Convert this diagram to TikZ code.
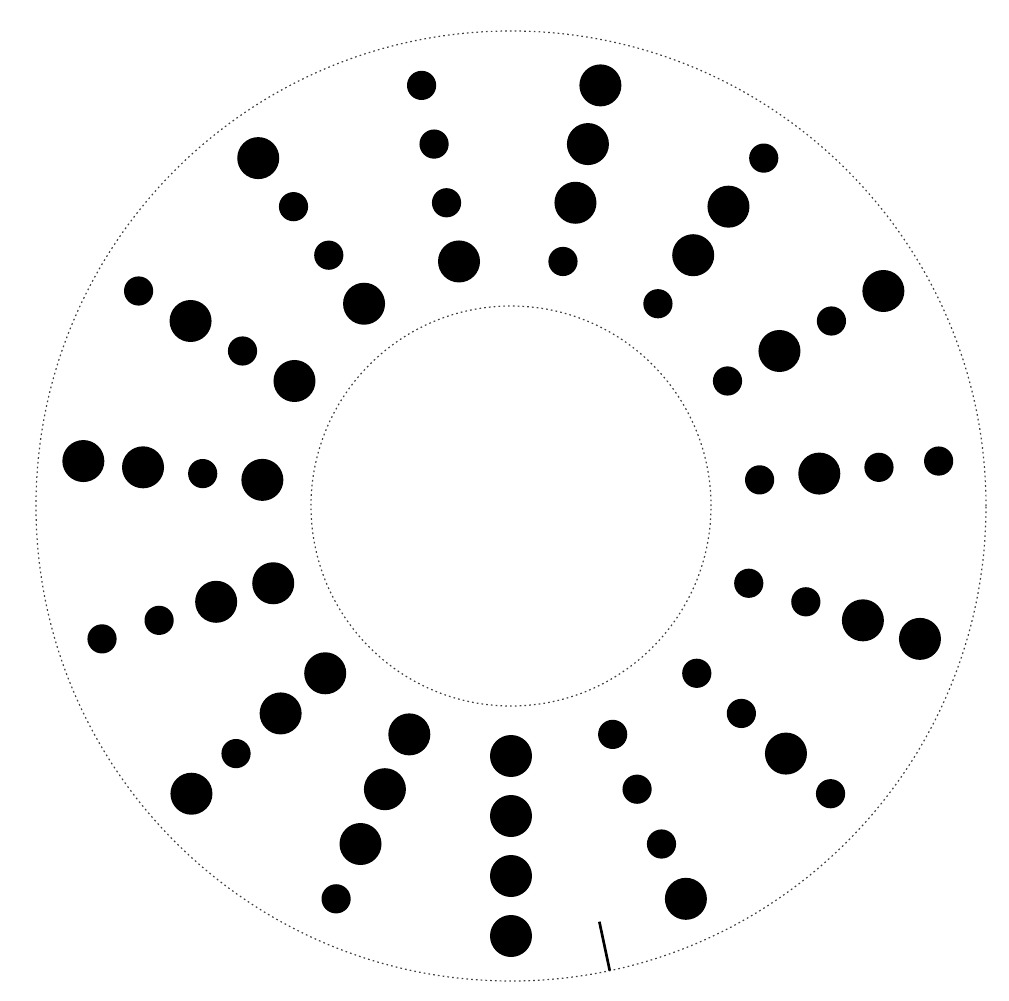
\documentclass[tikz,border=0pt]{standalone}
\usepackage{tikz}

\begin{document}
\begin{tikzpicture}[big dot/.style={circle, fill=black, inner sep=0pt, minimum size=1.05cm},
    small dot/.style={circle, fill=black, inner sep=0pt, minimum size=0.73cm},
    ring/.style={draw=black!75, line width=0.85pt, dash pattern=on 1.2pt off 2.2pt},
    tickmark/.style={line width=1.9pt}]
    \useasboundingbox (-12.775,-12.375) rectangle (12.45,12.65);
    % outer and inner track
    \draw[ring] (0,0) circle (11.875cm);
    \draw[ring] (0,0) circle (5cm);
    % fifteen spokes, four dots each (inner to outer)
    \foreach \k/\a/\b/\c/\d in {0/big/big/big/big, 1/small/small/small/big,
        2/small/small/big/small, 3/small/small/big/big, 4/small/big/small/small,
        5/small/big/small/big, 6/small/big/big/small, 7/small/big/big/big,
        8/big/small/small/small, 9/big/small/small/big, 10/big/small/big/small,
        11/big/small/big/big, 12/big/big/small/small, 13/big/big/small/big,
        14/big/big/big/small}
        \foreach \s [count=\j] in {\a,\b,\c,\d}
            \node[\s\space dot] (d\k-\j) at ({-90+24*\k}:{6.25+1.5*(\j-1)}) {};
    % index mark
    \coordinate (tickin)  at (-78:10.625);
    \coordinate (tickout) at (-78:11.875);
    \draw[tickmark] (tickin) -- (tickout);
\end{tikzpicture}
\end{document}
